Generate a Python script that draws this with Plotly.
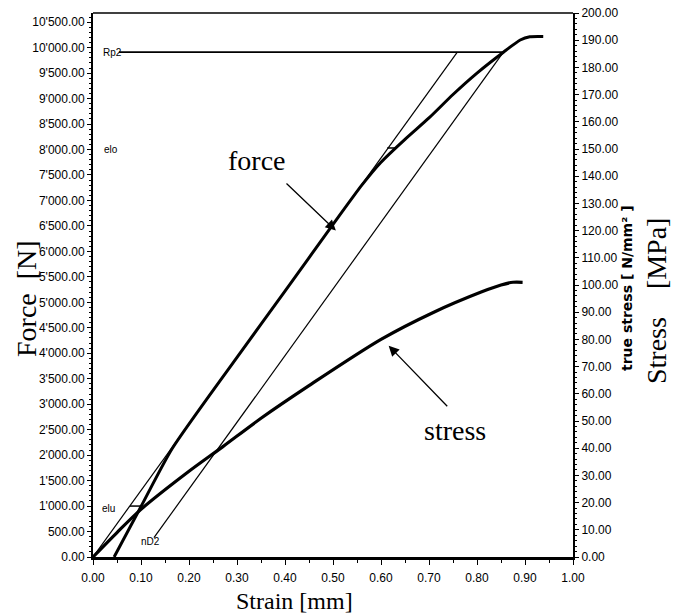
import plotly.graph_objects as go

# ---------------- data ----------------
# Force curve [N] vs strain
force_strain = [0.044, 0.100, 0.165, 0.300, 0.400, 0.500, 0.560, 0.600, 0.650, 0.700, 0.750, 0.800, 0.855, 0.890, 0.910, 0.938]
force_values = [0, 990, 2130, 3920, 5220, 6530, 7300, 7750, 8200, 8620, 9080, 9500, 9910, 10150, 10215, 10220]

# Stress curve [MPa] vs strain
stress_strain = [0.000, 0.050, 0.100, 0.200, 0.270, 0.350, 0.450, 0.600, 0.710, 0.810, 0.850, 0.875, 0.895]
stress_values = [0.0, 9.0, 17.5, 31.5, 40.5, 51.0, 63.0, 80.0, 90.0, 97.5, 100.0, 101.0, 101.0]

# Construction lines (strain, force)
elastic_line_strain = [0.0, 0.759]
elastic_line_force = [0, 9910]
offset_line_strain = [0.127, 0.855]
offset_line_force = [380, 9910]
rp2_strain = [0.054, 0.855]
rp2_force = [9910, 9910]
elu_strain = [0.077, 0.102]
elu_force = [1000, 1000]
elo_strain = [0.613, 0.630]
elo_force = [8030, 8030]

# Axis ticks
x_ticks = [0.0, 0.1, 0.2, 0.3, 0.4, 0.5, 0.6, 0.7, 0.8, 0.9, 1.0]
x_tick_labels = ["0.00", "0.10", "0.20", "0.30", "0.40", "0.50", "0.60", "0.70", "0.80", "0.90", "1.00"]
force_ticks = [i * 500 for i in range(22)]
force_tick_labels = [("%d'%03d.00" % (v // 1000, v % 1000)) if v >= 1000 else "%d.00" % v for v in force_ticks]
stress_ticks = [i * 10 for i in range(21)]
stress_tick_labels = ["%.2f" % v for v in stress_ticks]

# ---------------- figure ----------------
W, H = 677, 615
L, R, T, B = 93, 573, 13, 557

def px(x):
    return (x - L) / (R - L)

def py(y):
    return (B - y) / (B - T)

tick_font = dict(family="Liberation Sans Narrow, Arial Narrow, Liberation Sans", size=12, color="black")
serif = "Liberation Serif, Times New Roman, serif"

fig = go.Figure()

thin = dict(color="black", width=1.2)
fig.add_trace(go.Scatter(x=elastic_line_strain, y=elastic_line_force, mode="lines", line=thin, yaxis="y", showlegend=False))
fig.add_trace(go.Scatter(x=offset_line_strain, y=offset_line_force, mode="lines", line=thin, yaxis="y", showlegend=False))
fig.add_trace(go.Scatter(x=rp2_strain, y=rp2_force, mode="lines", line=dict(color="black", width=1.8), yaxis="y", showlegend=False))
fig.add_trace(go.Scatter(x=elu_strain, y=elu_force, mode="lines", line=dict(color="black", width=1.5), yaxis="y", showlegend=False))
fig.add_trace(go.Scatter(x=elo_strain, y=elo_force, mode="lines", line=dict(color="black", width=1.5), yaxis="y", showlegend=False))
fig.add_trace(go.Scatter(x=force_strain, y=force_values, mode="lines",
                         line=dict(color="black", width=3, shape="spline", smoothing=0.6), yaxis="y", showlegend=False))
fig.add_trace(go.Scatter(x=stress_strain, y=stress_values, mode="lines",
                         line=dict(color="black", width=3.2, shape="spline", smoothing=0.8), yaxis="y2", showlegend=False))

annotations = []
small_font = dict(family="Liberation Sans Narrow, Liberation Sans", size=10, color="black")
for txt, xv, yv in [("Rp2", 0.016, 9910), ("elo", 0.018, 8000), ("elu", 0.014, 960), ("nD2", 0.095, 300)]:
    annotations.append(dict(x=xv, y=yv, xref="x", yref="y", text=txt, showarrow=False, xanchor="left",
                            font=small_font))

# "force" and "stress" call-outs
annotations.append(dict(x=0.342, y=7785, xref="x", yref="y", text="force", showarrow=False,
                        font=dict(family=serif, size=28, color="black")))
annotations.append(dict(x=0.506, y=6409, xref="x", yref="y", ax=0.400, ay=7360, axref="x", ayref="y",
                        text="", showarrow=True, arrowhead=2, arrowsize=1.6, arrowwidth=1.3, arrowcolor="black"))
annotations.append(dict(x=0.755, y=2477, xref="x", yref="y", text="stress", showarrow=False,
                        font=dict(family=serif, size=28, color="black")))
annotations.append(dict(x=0.616, y=4148, xref="x", yref="y", ax=0.741, ay=2929, axref="x", ayref="y",
                        text="", showarrow=True, arrowhead=2, arrowsize=1.6, arrowwidth=1.3, arrowcolor="black"))

# axis titles
annotations.append(dict(x=px(26), y=py(299), xref="paper", yref="paper", text="Force  [N]", textangle=-90,
                        xanchor="center", yanchor="middle",
                        showarrow=False, font=dict(family=serif, size=28, color="black")))
annotations.append(dict(x=px(294), y=py(615), xref="paper", yref="paper", text="Strain [mm]",
                        xanchor="center", yanchor="bottom", borderpad=0,
                        showarrow=False, font=dict(family=serif, size=24, color="black")))
annotations.append(dict(x=px(627), y=py(288), xref="paper", yref="paper", text="<b>true stress [ N/mm² ]</b>", textangle=-90,
                        xanchor="center", yanchor="middle",
                        showarrow=False, font=dict(family="DejaVu Sans, Liberation Sans", size=14, color="black")))
annotations.append(dict(x=px(656), y=py(301), xref="paper", yref="paper", text="Stress    [MPa]", textangle=-90,
                        xanchor="center", yanchor="middle",
                        showarrow=False, font=dict(family=serif, size=28, color="black")))

fig.update_layout(
    width=W, height=H,
    margin=dict(l=L, r=W - R, t=T, b=H - B, autoexpand=False),
    paper_bgcolor="white", plot_bgcolor="white",
    showlegend=False,
    xaxis=dict(range=[0, 1], tickvals=x_ticks, ticktext=x_tick_labels, automargin=False,
               showgrid=False, zeroline=False, showline=True, linecolor="black", linewidth=3,
               ticks="outside", ticklen=5, tickcolor="black", tickfont=tick_font, ticklabelstandoff=3,
               minor=dict(dtick=0.05, ticks="outside", ticklen=3, tickcolor="black")),
    yaxis=dict(range=[0, 10680], tickvals=force_ticks, ticktext=force_tick_labels, automargin=False,
               showgrid=False, zeroline=False, showline=True, linecolor="black", linewidth=2,
               ticks="outside", ticklen=4, tickcolor="black", tickfont=tick_font,
               minor=dict(dtick=100, ticks="outside", ticklen=2, tickcolor="black")),
    yaxis2=dict(range=[0, 200], overlaying="y", side="right", tickvals=stress_ticks, ticktext=stress_tick_labels,
                automargin=False,
                showgrid=False, zeroline=False, showline=True, linecolor="black", linewidth=2,
                ticks="outside", ticklen=4, tickcolor="black", tickfont=tick_font,
                minor=dict(dtick=2, ticks="outside", ticklen=2, tickcolor="black")),
    annotations=annotations,
    shapes=[dict(type="line", xref="paper", yref="paper", x0=0, x1=1, y0=1, y1=1,
                 line=dict(color="black", width=1.6))],
)

fig.write_html("out.html", config={"displayModeBar": False},
               post_script="document.body.style.margin='0';document.body.style.padding='0';")
